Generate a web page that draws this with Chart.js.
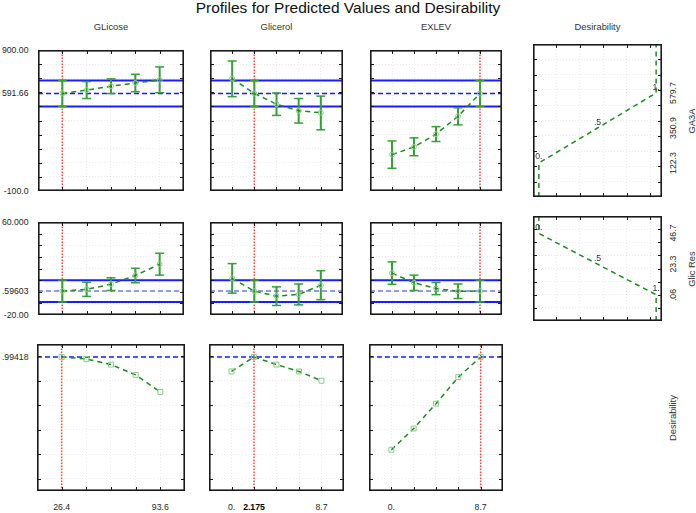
<!DOCTYPE html>
<html><head><meta charset="utf-8">
<script src="https://cdn.jsdelivr.net/npm/chart.js@4.4.1/dist/chart.umd.min.js"></script>
<style>
html,body{margin:0;padding:0;background:#fff}
#stage{position:relative;width:696px;height:513px;overflow:hidden;font-family:"Liberation Sans",Arial,sans-serif;color:#222}
#stage canvas{position:absolute}
.t{position:absolute;white-space:nowrap;line-height:1}
</style></head><body><div id="stage"></div>
<script>
// ---------- data ----------
const chartTitle = 'Profiles for Predicted Values and Desirability';
const factorNames = ['GLicose', 'Glicerol', 'EXLEV', 'Desirability'];
const responseNames = ['GA3A', 'Glic Res', 'Desirability'];

const glicoseLevels = [26.4, 43.2, 60.0, 76.8, 93.6];
const glicerolLevels = [0, 2.175, 4.35, 6.525, 8.7];
const exlevLevels = [0, 2.175, 4.35, 6.525, 8.7];
const currentSettings = [26.4, 2.175, 8.7];
const factorAxes = [[9.6, 110.4], [-2.175, 10.875], [-2.175, 10.875]];
const factorTickValues = [[26.4, 93.6], [0, 2.175, 8.7], [0, 8.7]];
const factorTickLabels = [['26.4', '93.6'], ['0.', '2.175', '8.7'], ['0.', '8.7']];

const ga3aAxis = [-100, 900];
const glicResAxis = [-20, 60];
const desirabilityAxis = [-0.1, 1.1];

const ga3aPredicted = 591.66, ga3aCiLow = 500, ga3aCiHigh = 683.3;
const glicPredicted = 0.59603, glicCiLow = -8.8, glicCiHigh = 10.0;
const desPredicted = 0.99418;

const ga3aGlicose = [591.66, 616, 643, 666, 688];
const ga3aGlicoseLow = [500, 556, 591, 604, 597];
const ga3aGlicoseHigh = [683.3, 676, 695, 728, 780];
const ga3aGlicerol = [697, 591.66, 516, 469, 455];
const ga3aGlicerolLow = [569, 500, 436, 382, 334];
const ga3aGlicerolHigh = [822, 683.3, 595, 556, 573];
const ga3aExlev = [158, 213, 303, 430, 591.66];
const ga3aExlevLow = [61, 150, 251, 369, 500];
const ga3aExlevHigh = [255, 277, 356, 490, 683.3];

const glicGlicose = [0.596, 2.1, 6.5, 14.0, 23.7];
const glicGlicoseLow = [-8.8, -4.0, 1.1, 7.7, 14.3];
const glicGlicoseHigh = [10.0, 8.2, 12.0, 20.2, 33.1];
const glicGlicerol = [11.5, 0.596, -3.8, -2.3, 5.6];
const glicGlicerolLow = [-1.2, -8.8, -11.8, -11.3, -6.8];
const glicGlicerolHigh = [24.2, 10.0, 4.2, 6.7, 18.1];
const glicExlev = [16.0, 7.7, 2.8, 0.4, 0.596];
const glicExlevLow = [6.4, 1.1, -2.5, -5.8, -8.8];
const glicExlevHigh = [25.7, 14.3, 8.0, 6.7, 10.0];

const desGlicose = [0.99418, 0.978, 0.932, 0.848, 0.708];
const desGlicerol = [0.876, 0.99418, 0.932, 0.876, 0.80];
const desExlev = [0.236, 0.41, 0.613, 0.83, 0.99418];

const desFnAxis = [-0.05, 1.05];
const desFnTicks = [0.15, 0.35, 0.55, 0.75, 0.95];
const ga3aDesValue = [0, 0, 0.5, 1, 1];
const ga3aDesResponse = [-100, 122.3, 350.9, 579.7, 900];
const glicDesValue = [0, 0, 0.5, 1, 1];
const glicDesResponse = [60, 46.7, 23.3, 0.06, -20];
const desPointLabels = ['', '0.', '.5', '1.', ''];

const ga3aLeftTicks = [900, 591.66, -100];
const ga3aLeftLabels = ['900.00', '591.66', '-100.0'];
const glicLeftTicks = [60, 0.59603, -20];
const glicLeftLabels = ['60.000', '.59603', '-20.00'];
const desLeftTicks = [0.99418];
const desLeftLabels = ['.99418'];
const ga3aRightTicks = [579.7, 350.9, 122.3];
const ga3aRightLabels = ['579.7', '350.9', '122.3'];
const glicRightTicks = [46.7, 23.3, 0.06];
const glicRightLabels = ['46.7', '23.3', '.06'];

// ---------- layout / style ----------
const stage = document.getElementById('stage');
const COLS = [[32, 158], [204, 145], [364, 144], [533, 129]];
const ROWS = [[44, 153], [216, 105], [339, 157]];
const GRID = 'rgba(0,0,0,0.08)';
const BLUE = '#1c1cff';
const RED = 'rgba(255,45,45,0.9)';
const BAR = '#35a035';
const DASH = '#1f8a1f';
const MARK = '#8ccc8c';

function steps(a, b, s) { const r = []; for (let v = a; v <= b + 1e-9; v += s) r.push(+v.toFixed(6)); return r; }

const frame = {
  id: 'frame',
  afterDraw(chart) {
    const { ctx, chartArea: a, scales: { x, y } } = chart;
    ctx.save();
    ctx.strokeStyle = '#1a1a1a'; ctx.lineWidth = 1; ctx.beginPath();
    x.ticks.forEach(t => { const p = Math.round(x.getPixelForValue(t.value)) + 0.5;
      ctx.moveTo(p, a.top); ctx.lineTo(p, a.top + 4); ctx.moveTo(p, a.bottom); ctx.lineTo(p, a.bottom - 4); });
    y.ticks.forEach(t => { const p = Math.round(y.getPixelForValue(t.value)) + 0.5;
      ctx.moveTo(a.left, p); ctx.lineTo(a.left + 4, p); ctx.moveTo(a.right, p); ctx.lineTo(a.right - 4, p); });
    ctx.stroke();
    ctx.lineWidth = 1.6;
    ctx.strokeRect(a.left + 0.8, a.top + 0.8, a.width - 1.6, a.height - 1.6);
    ctx.restore();
  }
};

function panel(c, r, xr, xt, yr, yt, datasets) {
  const [l, w] = COLS[c], [t, h] = ROWS[r];
  const cv = document.createElement('canvas');
  cv.width = w; cv.height = h;
  cv.style.left = l + 'px'; cv.style.top = t + 'px'; cv.style.width = w + 'px'; cv.style.height = h + 'px';
  stage.appendChild(cv);
  const axis = (range, ticks) => ({
    type: 'linear', min: range[0], max: range[1],
    afterBuildTicks: s => { s.ticks = ticks.map(v => ({ value: v })); },
    ticks: { display: false },
    grid: { drawTicks: false, color: GRID, lineWidth: 1 },
    border: { display: false, dash: [1, 2] }
  });
  const ch = new Chart(cv, {
    type: 'line',
    data: { datasets },
    options: {
      responsive: false, animation: false, events: [], devicePixelRatio: 1,
      layout: { padding: 0 },
      plugins: { legend: { display: false }, tooltip: { enabled: false } },
      scales: { x: axis(xr, xt), y: axis(yr, yt) }
    },
    plugins: [frame]
  });
  ch.$l = l; ch.$t = t;
  return ch;
}

const hline = (v, xr, color, width, dash) => ({ data: [{ x: xr[0], y: v }, { x: xr[1], y: v }],
  borderColor: color, borderWidth: width, borderDash: dash || [], pointRadius: 0, fill: false });
const vline = (v, yr) => ({ data: [{ x: v, y: yr[0] }, { x: v, y: yr[1] }],
  borderColor: RED, borderWidth: 1.5, borderDash: [1.5, 1.5], pointRadius: 0, fill: false });
const errorBars = (xs, lo, hi) => {
  const d = [];
  xs.forEach((x, i) => { d.push({ x, y: lo[i] }, { x, y: hi[i] }, { x, y: null }); });
  return { data: d, borderColor: BAR, borderWidth: 2, spanGaps: false, pointStyle: 'line',
    pointRadius: 4.5, pointBorderWidth: 1.5, pointBorderColor: BAR, pointBackgroundColor: BAR };
};
const profile = (xs, ys, style, radius) => ({ data: xs.map((x, i) => ({ x, y: ys[i] })),
  borderColor: DASH, borderWidth: 1.5, borderDash: [5, 4], pointStyle: style, pointRadius: radius,
  pointBorderColor: MARK, pointBackgroundColor: 'rgba(255,255,255,0)', pointBorderWidth: 1, fill: false });

const levels = [glicoseLevels, glicerolLevels, exlevLevels];
const responses = [
  { axis: ga3aAxis, grid: steps(0, 800, 100), pred: ga3aPredicted, lo: ga3aCiLow, hi: ga3aCiHigh, mid: BLUE,
    prof: [[ga3aGlicose, ga3aGlicoseLow, ga3aGlicoseHigh], [ga3aGlicerol, ga3aGlicerolLow, ga3aGlicerolHigh], [ga3aExlev, ga3aExlevLow, ga3aExlevHigh]] },
  { axis: glicResAxis, grid: steps(-10, 50, 10), pred: glicPredicted, lo: glicCiLow, hi: glicCiHigh, mid: '#7676ff',
    prof: [[glicGlicose, glicGlicoseLow, glicGlicoseHigh], [glicGlicerol, glicGlicerolLow, glicGlicerolHigh], [glicExlev, glicExlevLow, glicExlevHigh]] }
];
const desProfiles = [desGlicose, desGlicerol, desExlev];

const charts = [[], [], []];
responses.forEach((R, r) => {
  for (let f = 0; f < 3; f++) {
    const [m, lo, hi] = R.prof[f];
    charts[r][f] = panel(f, r, factorAxes[f], levels[f], R.axis, R.grid, [
      profile(levels[f], m, 'circle', 2.5),
      errorBars(levels[f], lo, hi),
      vline(currentSettings[f], R.axis),
      hline(R.pred, factorAxes[f], R.mid, 1.5, [5, 3]),
      hline(R.hi, factorAxes[f], BLUE, 2),
      hline(R.lo, factorAxes[f], BLUE, 2)
    ]);
  }
});
for (let f = 0; f < 3; f++) {
  charts[2][f] = panel(f, 2, factorAxes[f], levels[f], desirabilityAxis, steps(0, 1, 0.2), [
    profile(levels[f], desProfiles[f], 'rect', 3.5),
    vline(currentSettings[f], desirabilityAxis),
    hline(desPredicted, factorAxes[f], BLUE, 1.5, [5, 3])
  ]);
}
const desFn = [[ga3aDesValue, ga3aDesResponse, ga3aAxis, steps(0, 800, 100)], [glicDesValue, glicDesResponse, glicResAxis, steps(-10, 50, 10)]];
desFn.forEach(([dx, dy, yr, yt], r) => {
  charts[r][3] = panel(3, r, desFnAxis, desFnTicks, yr, yt, [{
    data: dx.map((x, i) => ({ x, y: dy[i] })), borderColor: DASH, borderWidth: 1.5, borderDash: [5, 4], pointRadius: 0, fill: false
  }]);
});

// ---------- text ----------
function txt(s, x, y, o = {}) {
  const d = document.createElement('div');
  d.className = 't'; d.textContent = s;
  d.style.left = x + 'px'; d.style.top = y + 'px';
  d.style.fontSize = (o.size || 8.7) + 'px';
  if (o.bold) d.style.fontWeight = 'bold';
  d.style.color = o.color || '#262626';
  const ax = o.ax === undefined ? 0.5 : o.ax;
  d.style.transform = `translate(${-ax * 100}%,-50%)` + (o.rot ? ' rotate(-90deg)' : '');
  stage.appendChild(d);
}
const px = (ch, v) => ch.$l + ch.scales.x.getPixelForValue(v);
const py = (ch, v) => ch.$t + ch.scales.y.getPixelForValue(v);

txt(chartTitle, 348, 7.5, { size: 15.5, color: '#111' });
factorNames.forEach((n, c) => txt(n, COLS[c][0] + COLS[c][1] / 2, 26.7, { size: 9.4, color: '#333' }));

[[ga3aLeftTicks, ga3aLeftLabels], [glicLeftTicks, glicLeftLabels], [desLeftTicks, desLeftLabels]].forEach(([tv, tl], r) => {
  tv.forEach((v, i) => txt(tl[i], 28.5, py(charts[r][0], v), { ax: 1 }));
});
factorTickValues.forEach((tv, f) => {
  tv.forEach((v, i) => txt(factorTickLabels[f][i], px(charts[2][f], v), 507,
    { bold: factorTickLabels[f][i] === '2.175', color: factorTickLabels[f][i] === '2.175' ? '#000' : '#262626' }));
});
[[ga3aRightTicks, ga3aRightLabels], [glicRightTicks, glicRightLabels]].forEach(([tv, tl], r) => {
  tv.forEach((v, i) => txt(tl[i], 672.5, py(charts[r][3], v), { rot: true }));
});
txt(responseNames[0], 691.5, ROWS[0][0] + ROWS[0][1] / 2, { rot: true, size: 9.4, color: '#333' });
txt(responseNames[1], 691.5, ROWS[1][0] + ROWS[1][1] / 2, { rot: true, size: 9.4, color: '#333' });
txt(responseNames[2], 673, ROWS[2][0] + ROWS[2][1] / 2, { rot: true, size: 9.4, color: '#333' });

desFn.forEach(([dx, dy], r) => {
  dx.forEach((v, i) => { if (desPointLabels[i]) txt(desPointLabels[i], px(charts[r][3], v), py(charts[r][3], dy[i]) - 6.5, { size: 8.7, color: '#333' }); });
});
</script></body></html>
